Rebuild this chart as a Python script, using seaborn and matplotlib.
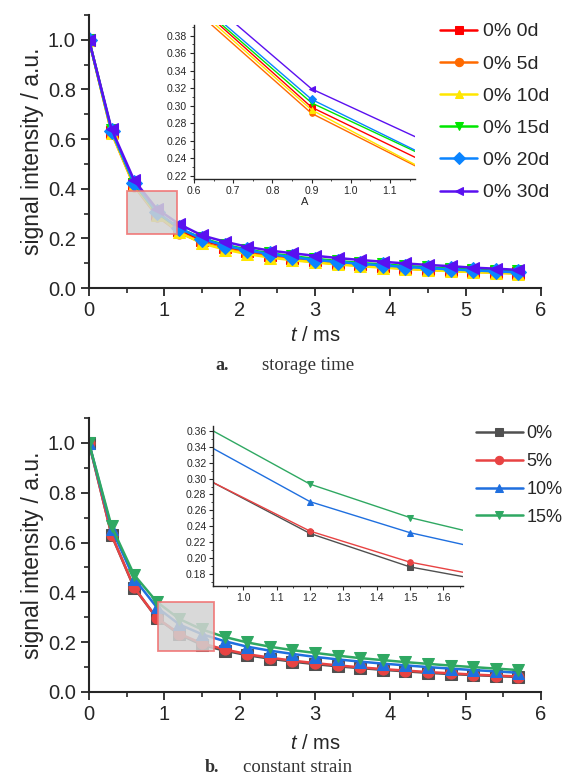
import numpy as np
import pandas as pd
import matplotlib
matplotlib.use("Agg")
import matplotlib.pyplot as plt
import seaborn as sns
from matplotlib.patches import Rectangle
from matplotlib.ticker import MultipleLocator

sns.set_style("ticks")
plt.rcParams["font.family"] = ["Liberation Sans", "DejaVu Sans"]
plt.rcParams["mathtext.fontset"] = "custom"
plt.rcParams["mathtext.it"] = "Liberation Sans:italic"
plt.rcParams["mathtext.rm"] = "Liberation Sans"

# time axis (ms)
t = [0.0, 0.3, 0.6, 0.9, 1.2, 1.5, 1.8, 2.1, 2.4, 2.7, 3.0, 3.3, 3.6, 3.9, 4.2, 4.5, 4.8, 5.1, 5.4, 5.7]

# panel a: storage time
labels_a = ["0% 0d", "0% 5d", "0% 10d", "0% 15d", "0% 20d", "0% 30d"]
d0 = [1.0, 0.630, 0.418, 0.298, 0.233, 0.193, 0.167, 0.148, 0.133, 0.121, 0.111, 0.102, 0.095, 0.088, 0.082, 0.077, 0.072, 0.068, 0.064, 0.061]
d5 = [1.0, 0.625, 0.410, 0.291, 0.223, 0.183, 0.158, 0.140, 0.126, 0.114, 0.105, 0.097, 0.090, 0.084, 0.078, 0.073, 0.069, 0.065, 0.062, 0.059]
d10 = [1.0, 0.625, 0.414, 0.295, 0.224, 0.180, 0.155, 0.137, 0.123, 0.112, 0.103, 0.095, 0.088, 0.082, 0.077, 0.072, 0.068, 0.064, 0.061, 0.058]
d15 = [1.0, 0.635, 0.420, 0.303, 0.240, 0.200, 0.174, 0.155, 0.140, 0.128, 0.118, 0.109, 0.101, 0.095, 0.089, 0.083, 0.078, 0.074, 0.070, 0.067]
d20 = [1.0, 0.632, 0.423, 0.307, 0.241, 0.198, 0.171, 0.152, 0.137, 0.124, 0.114, 0.105, 0.098, 0.091, 0.085, 0.080, 0.075, 0.071, 0.067, 0.063]
d30 = [1.0, 0.640, 0.434, 0.319, 0.257, 0.212, 0.187, 0.166, 0.151, 0.140, 0.130, 0.121, 0.113, 0.106, 0.099, 0.093, 0.088, 0.082, 0.078, 0.073]
series_a = [d0, d5, d10, d15, d20, d30]
colors_a = ["#ff0000", "#ff6a00", "#ffe600", "#00e600", "#0a84ff", "#5a10f0"]
markers_a = ["s", "o", "^", "v", "D", "<"]

# panel b: constant strain
labels_b = ["0%", "5%", "10%", "15%"]
s0 = [1.0, 0.630, 0.418, 0.297, 0.231, 0.189, 0.166, 0.148, 0.134, 0.122, 0.112, 0.103, 0.096, 0.089, 0.083, 0.077, 0.072, 0.068, 0.064, 0.060]
s5 = [1.0, 0.630, 0.420, 0.297, 0.234, 0.195, 0.171, 0.152, 0.138, 0.126, 0.116, 0.107, 0.099, 0.092, 0.086, 0.080, 0.075, 0.070, 0.066, 0.062]
s10 = [1.0, 0.655, 0.455, 0.340, 0.271, 0.232, 0.204, 0.182, 0.166, 0.153, 0.141, 0.131, 0.122, 0.114, 0.107, 0.100, 0.094, 0.088, 0.083, 0.077]
s15 = [1.0, 0.665, 0.470, 0.362, 0.293, 0.251, 0.221, 0.199, 0.182, 0.168, 0.157, 0.146, 0.136, 0.128, 0.120, 0.113, 0.106, 0.100, 0.094, 0.088]
series_b = [s0, s5, s10, s15]
colors_b = ["#505050", "#e84343", "#1f6fdf", "#2fa862"]
markers_b = ["s", "o", "^", "v"]


def style_main(ax, lpad):
    ax.set_xlim(0, 6)
    ax.set_ylim(0, 1.1)
    ax.xaxis.set_major_locator(MultipleLocator(1))
    ax.xaxis.set_minor_locator(MultipleLocator(0.5))
    ax.yaxis.set_major_locator(MultipleLocator(0.2))
    ax.yaxis.set_minor_locator(MultipleLocator(0.1))
    ax.tick_params(which="major", direction="out", length=6, width=1.3, labelsize=14.5)
    ax.tick_params(which="minor", direction="out", length=3.5, width=1.2)
    for s in ["left", "bottom"]:
        ax.spines[s].set_linewidth(1.5)
    sns.despine(ax=ax)
    ax.set_xlabel("$t$ / ms", fontsize=14.5, labelpad=lpad)
    ax.set_ylabel("signal intensity / a.u.", fontsize=16.5, labelpad=3)
    ax.yaxis.set_major_formatter(matplotlib.ticker.FormatStrFormatter("%.1f"))


def style_inset(ax):
    ax.tick_params(which="major", direction="out", length=3, width=0.8, labelsize=7.5, pad=2)
    ax.tick_params(which="minor", direction="out", length=1.5, width=0.6)
    for s in ["left", "bottom"]:
        ax.spines[s].set_linewidth(1.0)
    sns.despine(ax=ax)
    ax.patch.set_alpha(0)


fig = plt.figure(figsize=(5.66, 7.77), dpi=100)

# ---- panel a ----
ax1 = fig.add_axes([0.1572, 0.6293, 0.7986, 0.3514])
for y, lab, c, m in zip(series_a, labels_a, colors_a, markers_a):
    sns.lineplot(x=t, y=y, ax=ax1, color=c, marker=m, markersize=8, markeredgecolor=c,
                 linewidth=1.8, label=lab)
style_main(ax1, 4)
ax1.add_patch(Rectangle((0.5, 0.216), 0.664, 0.176, facecolor="#d3d3d3", edgecolor="#f07070",
                        alpha=0.85, linewidth=1.3, zorder=5))
ax1.legend(loc="upper left", bbox_to_anchor=(0.76, 1.0), frameon=False, fontsize=14,
           handlelength=1.9, handletextpad=0.3, labelspacing=0.75, borderaxespad=0,
           markerscale=0.75)

in1 = fig.add_axes([0.3428, 0.7696, 0.3905, 0.1982])
for y, c, m in zip(series_a, colors_a, markers_a):
    sns.lineplot(x=t, y=y, ax=in1, color=c, marker=m, markersize=4, markeredgecolor=c,
                 linewidth=1.0, legend=False)
in1.set_xlim(0.6, 1.164)
in1.set_ylim(0.216, 0.392)
in1.xaxis.set_major_locator(MultipleLocator(0.1))
in1.xaxis.set_minor_locator(MultipleLocator(0.05))
in1.yaxis.set_major_locator(MultipleLocator(0.02))
in1.yaxis.set_minor_locator(MultipleLocator(0.01))
in1.yaxis.set_major_formatter(matplotlib.ticker.FormatStrFormatter("%.2f"))
in1.xaxis.set_major_formatter(matplotlib.ticker.FormatStrFormatter("%.1f"))
style_inset(in1)
in1.set_xlabel("A", fontsize=8, labelpad=1)
in1.set_ylabel("")

fig.text(215 / 566, 1 - 365 / 777, "a.", fontsize=13, fontweight="bold", family="Liberation Serif",
         color="#333333", va="center")
fig.text(262 / 566, 1 - 365 / 777, "storage time", fontsize=13.5, family="Liberation Serif",
         color="#333333", va="center")

# ---- panel b ----
ax2 = fig.add_axes([0.1572, 0.1094, 0.7986, 0.3526])
for y, lab, c, m in zip(series_b, labels_b, colors_b, markers_b):
    sns.lineplot(x=t, y=y, ax=ax2, color=c, marker=m, markersize=8, markeredgecolor=c,
                 linewidth=1.8, label=lab)
style_main(ax2, 7)
ax2.add_patch(Rectangle((0.91, 0.165), 0.75, 0.197, facecolor="#d3d3d3", edgecolor="#f07070",
                        alpha=0.85, linewidth=1.3, zorder=5))
ax2.legend(loc="upper left", bbox_to_anchor=(0.84, 1.0), frameon=False, fontsize=13,
           handlelength=2.6, handletextpad=0.2, labelspacing=0.6, borderaxespad=0,
           markerscale=0.75)

in2 = fig.add_axes([0.3769, 0.2458, 0.4417, 0.2059])
for y, c, m in zip(series_b, colors_b, markers_b):
    sns.lineplot(x=t, y=y, ax=in2, color=c, marker=m, markersize=4, markeredgecolor=c,
                 linewidth=1.0, legend=False)
in2.set_xlim(0.91, 1.66)
in2.set_ylim(0.165, 0.366)
in2.xaxis.set_major_locator(MultipleLocator(0.1))
in2.xaxis.set_minor_locator(MultipleLocator(0.05))
in2.yaxis.set_major_locator(MultipleLocator(0.02))
in2.yaxis.set_minor_locator(MultipleLocator(0.01))
in2.yaxis.set_major_formatter(matplotlib.ticker.FormatStrFormatter("%.2f"))
in2.xaxis.set_major_formatter(matplotlib.ticker.FormatStrFormatter("%.1f"))
style_inset(in2)
in2.set_xlabel("")
in2.set_ylabel("")

fig.text(205 / 566, 1 - 768 / 777, "b.", fontsize=13, fontweight="bold", family="Liberation Serif",
         color="#333333", va="center")
fig.text(243 / 566, 1 - 768 / 777, "constant strain", fontsize=13.5, family="Liberation Serif",
         color="#333333", va="center")

fig.savefig("out.png", dpi=100)
